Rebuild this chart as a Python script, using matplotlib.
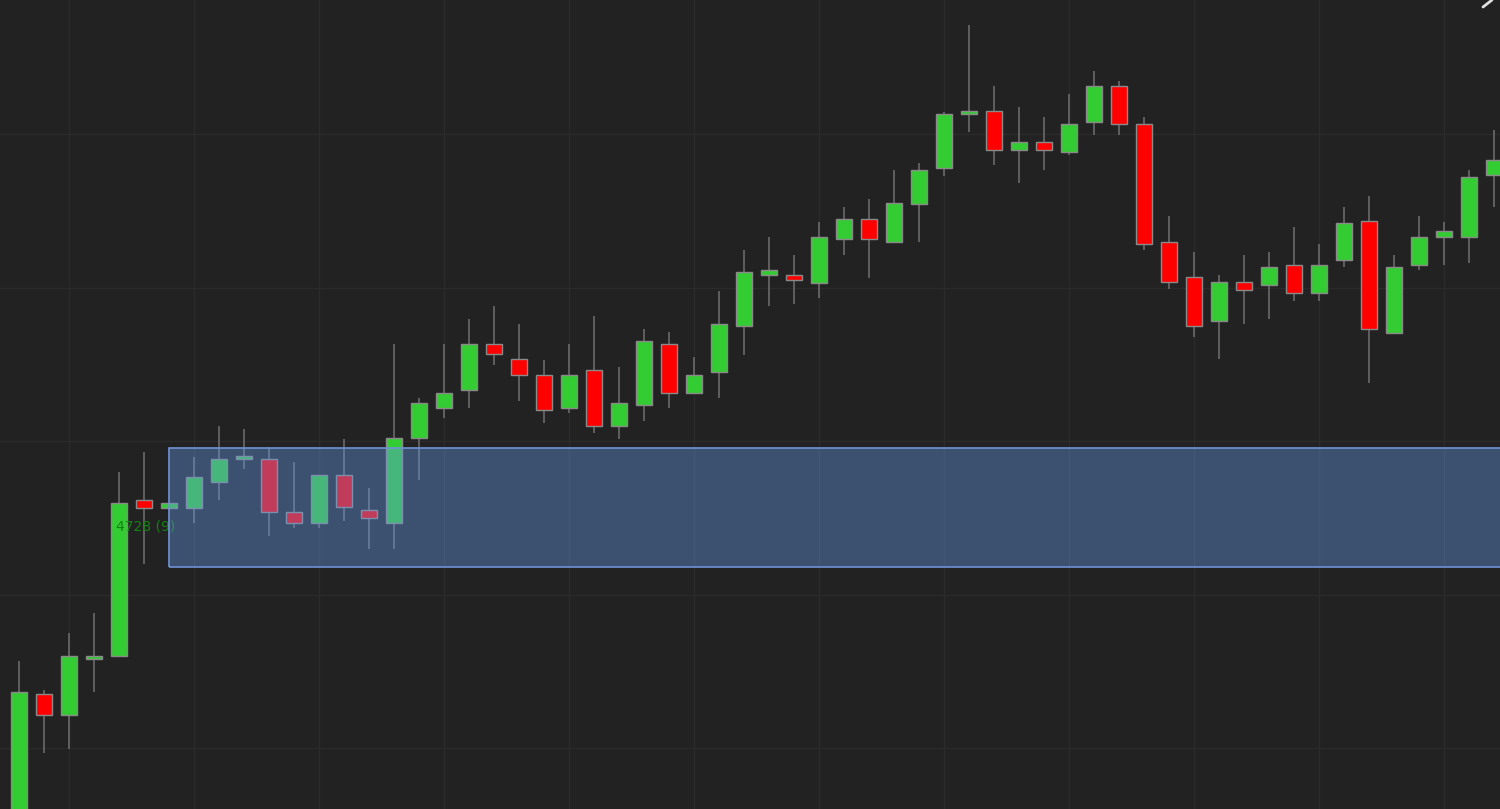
import matplotlib
matplotlib.use('Agg')
import matplotlib.pyplot as plt
from matplotlib.patches import Rectangle
from matplotlib.lines import Line2D
import numpy as np

# OHLC (one bar per slot)
opens = [4704.00, 4713.52, 4712.15, 4715.80, 4715.99, 4726.16, 4725.64, 4725.64, 4727.33, 4728.83,
         4728.83, 4725.37, 4724.66, 4727.79, 4725.50, 4724.66, 4730.20, 4732.15, 4733.32, 4736.32,
         4735.34, 4734.30, 4732.15, 4734.63, 4730.98, 4732.35, 4736.32, 4733.13, 4734.50, 4737.49,
         4740.81, 4740.81, 4740.29, 4743.16, 4744.46, 4742.96, 4745.44, 4747.79, 4751.30, 4751.50,
         4748.96, 4749.48, 4748.83, 4750.78, 4753.13, 4750.65, 4742.96, 4740.68, 4737.82, 4740.36,
         4740.16, 4741.47, 4739.64, 4741.79, 4744.33, 4737.04, 4741.47, 4743.29, 4743.29, 4747.33]
highs = [4715.67, 4713.78, 4717.49, 4718.79, 4727.98, 4729.28, 4725.96, 4728.96, 4730.98, 4730.78,
         4729.61, 4728.63, 4727.79, 4730.13, 4726.94, 4736.32, 4732.80, 4736.32, 4737.95, 4738.79,
         4737.62, 4735.28, 4736.32, 4738.14, 4734.82, 4737.30, 4737.10, 4735.47, 4739.77, 4742.44,
         4743.29, 4742.12, 4744.27, 4745.24, 4745.77, 4747.65, 4748.11, 4751.43, 4757.10, 4753.13,
         4751.76, 4751.11, 4752.61, 4754.10, 4753.45, 4751.11, 4744.66, 4742.31, 4740.81, 4742.12,
         4742.31, 4743.94, 4742.83, 4745.24, 4745.96, 4742.12, 4744.66, 4744.27, 4747.65, 4750.26]
lows = [4703.50, 4709.67, 4709.93, 4713.65, 4715.99, 4721.99, 4725.64, 4724.66, 4726.16, 4728.18,
        4723.81, 4724.33, 4724.33, 4724.79, 4722.96, 4722.96, 4727.46, 4731.50, 4732.15, 4734.95,
        4732.61, 4731.17, 4731.82, 4730.52, 4730.13, 4731.30, 4732.15, 4733.13, 4732.80, 4735.60,
        4738.79, 4738.93, 4739.32, 4742.12, 4740.62, 4742.96, 4742.96, 4747.26, 4750.13, 4747.98,
        4746.81, 4747.65, 4748.63, 4749.93, 4749.93, 4742.44, 4739.90, 4736.78, 4735.34, 4737.62,
        4737.95, 4739.12, 4739.12, 4741.34, 4733.78, 4737.04, 4741.14, 4741.47, 4741.60, 4745.24]
closes = [4713.65, 4712.15, 4715.99, 4715.99, 4725.96, 4725.64, 4725.96, 4727.65, 4728.83, 4729.02,
          4725.37, 4724.66, 4727.79, 4725.70, 4724.98, 4730.20, 4732.48, 4733.13, 4736.32, 4735.67,
          4734.30, 4732.02, 4734.30, 4730.98, 4732.48, 4736.51, 4733.13, 4734.30, 4737.62, 4741.01,
          4741.14, 4740.49, 4743.29, 4744.46, 4743.16, 4745.50, 4747.65, 4751.30, 4751.50, 4748.96,
          4749.48, 4748.96, 4750.65, 4753.13, 4750.65, 4742.83, 4740.36, 4737.49, 4740.36, 4739.84,
          4741.34, 4739.64, 4741.47, 4744.20, 4737.30, 4741.34, 4743.29, 4743.68, 4747.20, 4748.31]

# highlighted zone
zone_start = 6
zone_low = 4721.79
zone_high = 4729.54
zone_label = '4728 (9)'
label_x = 3.88
label_price = 4724.40

bg = '#222222'
up_col = '#33cc33'
down_col = '#ff0000'

fig = plt.figure(figsize=(15, 8.09), dpi=100, facecolor=bg)
ax = fig.add_axes([0, 0, 1, 1])
ax.set_facecolor(bg)

n = len(opens)
x = np.arange(n)
o = np.array(opens)
c = np.array(closes)
cols = [up_col if cc >= oo else down_col for oo, cc in zip(o, c)]

# grid
for gx in range(2, n, 5):
    ax.axvline(gx, color='#2b2b2b', linewidth=1, zorder=0)
for gy in [4710, 4720, 4730, 4740, 4750]:
    ax.axhline(gy, color='#2b2b2b', linewidth=1, zorder=0)

# wicks and bodies
ax.vlines(x, lows, highs, color='#707070', linewidth=1.1, zorder=1)
body_lo = np.minimum(o, c)
body_h = np.maximum(np.abs(c - o), 0.15)
ax.bar(x, body_h, bottom=body_lo, width=0.64, color=cols, edgecolor='#8a8a8a',
       linewidth=1, zorder=2)

# label sits under the zone box
ax.text(label_x, label_price, zone_label, color='#148214', fontsize=10,
        ha='left', va='center', zorder=2.5)

# zone box on top
ax.add_patch(Rectangle((zone_start, zone_low), n + 5 - zone_start, zone_high - zone_low,
                       facecolor='#6597e5', alpha=0.4, edgecolor='none', zorder=3))
ax.add_patch(Rectangle((zone_start, zone_low), n + 5 - zone_start, zone_high - zone_low,
                       facecolor='none', edgecolor='#6f93d4', linewidth=1.2, zorder=4))

ax.set_xlim(-0.76, 59.24)
ax.set_ylim(4730 - 368 / 15.35, 4730 + 441 / 15.35)
ax.set_xticks([])
ax.set_yticks([])
for sp in ax.spines.values():
    sp.set_visible(False)

# small corner icon
fig.add_artist(Line2D([1483 / 1500, 1492 / 1500], [1 - 7 / 809, 1.0],
                      transform=fig.transFigure, color='#e0e0e0', linewidth=2,
                      solid_capstyle='round'))

plt.savefig('out.png', dpi=100, facecolor=bg)
